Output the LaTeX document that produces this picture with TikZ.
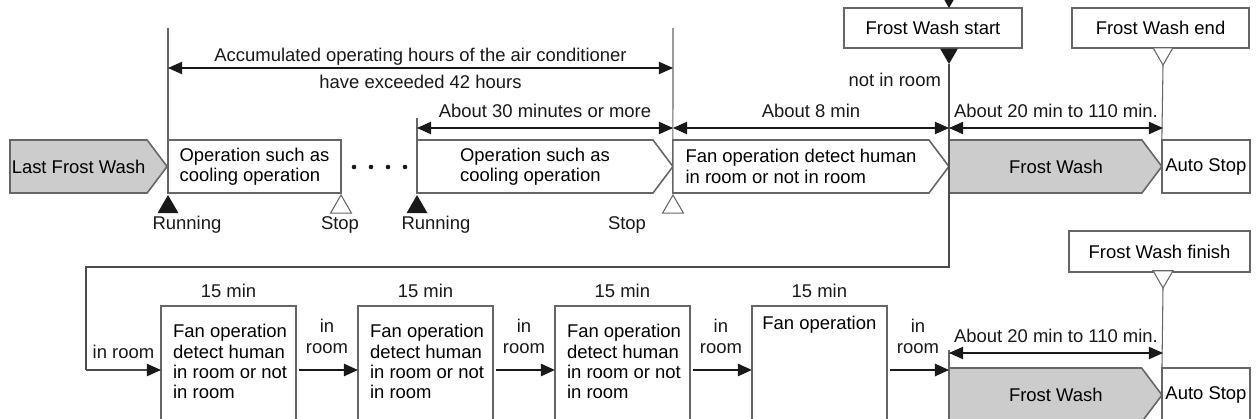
\documentclass[tikz,border=0pt]{standalone}
\usepackage{fontspec}
\setmainfont{Liberation Sans}
\usetikzlibrary{arrows.meta,shapes.symbols,shapes.geometric,positioning}

% lower boxes: text block hung from the top of the box
\newcommand{\fanbody}[1]{\parbox[c][52pt][t]{70pt}{\leftskip=3.5pt #1}}

\begin{document}
\begin{tikzpicture}[
    x=0.02cm, y=-0.02cm,
    font=\fontsize{10.5}{11.6}\selectfont,
    box/.style={rectangle,draw=black!60,line width=0.9pt,fill=white,outer sep=0pt,inner sep=1pt,minimum height=1.06cm,align=left},
    pointer/.style={box,signal,signal to=east,signal pointer angle=106},
    wash/.style={pointer,fill=black!20},
    event/.style={rectangle,draw=black!60,line width=0.7pt,fill=white,inner sep=1pt,minimum height=0.8cm},
    fanbox/.style={rectangle,draw=black!60,line width=0.9pt,outer sep=0pt,inner xsep=3.25pt,inner ysep=10pt,minimum width=2.7cm,minimum height=2.56cm},
    runmark/.style={regular polygon,regular polygon sides=3,minimum size=0.485cm,inner sep=0pt,outer sep=0pt,fill=black!90,anchor=corner 1},
    stopmark/.style={runmark,fill=white,draw=black!60,line width=0.6pt},
    startmark/.style={runmark,minimum size=0.41cm,shape border rotate=180},
    endmark/.style={stopmark,minimum size=0.46cm,shape border rotate=180},
    guide/.style={draw=black!60,line width=0.6pt},
    dim/.style={{Triangle[length=8pt,width=7pt]}-{Triangle[length=8pt,width=7pt]},line width=0.6pt,black!90},
    flow/.style={-{Triangle[length=8pt,width=7pt]},line width=1pt,black!90,shorten <=2pt},
    backline/.style={-{Triangle[length=8pt,width=7pt,color=black!90]},line width=0.6pt,black!70},
    note/.style={inner sep=1pt,text=black!90,align=center},
]
\useasboundingbox (0,0) rectangle (1257,419);
\clip (0,0) rectangle (1257,419);

% upper time line
\node[wash,minimum width=3.12cm,anchor=west]    (last)   at (10,166.5)  {Last Frost Wash};
\node[box,minimum width=3.46cm,anchor=west]     (cool1)  at (168,166.5) {Operation such as\\cooling operation};
\node[pointer,minimum width=5.12cm,anchor=west] (cool2)  at (417,166.5) {Operation such as\\cooling operation};
\node[pointer,minimum width=5.52cm,right=0pt of cool2] (detect) {Fan operation detect human\\in room or not in room};
\node[wash,minimum width=4.26cm,right=0pt of detect]   (wash1)  {\hspace*{12pt}Frost Wash};
\node[box,minimum width=1.76cm,right=0pt of wash1]     (auto1)  {Auto Stop};
\foreach \dx in {354,371,388,405} \fill[black!90] (\dx,167) circle (1.3pt);

\node[runmark]  (run1)  at (168,195) {};
\node[stopmark] (stop1) at (341,195) {};
\node[runmark]  (run2)  at (417,195) {};
\node[stopmark] (stop2) at (673,195) {};
\node[note] (runtxt1)  at (187,225) {Running};
\node[note] (stoptxt1) at (340,225) {Stop};
\node[note] (runtxt2)  at (436,225) {Running};
\node[note] (stoptxt2) at (627,225) {Stop};

\node[event,minimum width=3.56cm] (fsstart) at (933,28)    {Frost Wash start};
\node[event,minimum width=3.54cm] (fsend)   at (1160.5,28) {Frost Wash end};
\node[startmark] (startin)  at (949,8)  {};
\node[startmark] (startout) at (949,64) {};
\node[endmark]   (endout)   at (1163,65) {};
\node[note,anchor=east] (absent) at (943,80) {not in room};

\coordinate (accL) at (168,28);
\coordinate (accR) at (673,28);
\coordinate (minL) at (417,118);
\draw[guide] (cool1.north west) -- (accL);
\draw[guide] (cool2.north west) -- (minL);
\draw[guide] (detect.north west) -- (accR);
\draw[guide] (endout.corner 1) -- (auto1.north west);

\coordinate (a1) at (168,68);
\coordinate (a2) at (673,68);
\coordinate (b1) at (417,128);
\coordinate (b2) at (673,128);
\coordinate (b3) at (949,128);
\coordinate (b4) at (1163,128);
\draw[dim] (a1) -- (a2) node[midway,above=0.5pt,note] (acc1) {Accumulated operating hours of the air conditioner}
                        node[midway,below=3pt,note]   (acc2) {have exceeded 42 hours};
\draw[dim] (b1) -- (b2) node[midway,above=4.8pt,note] (lbl30) {About 30 minutes or more};
\draw[dim] (b2) -- (b3) node[midway,above=4.8pt,note] (lbl8)  {About 8 min};
\draw[dim] (b3) -- (b4) node[midway,above=4.8pt,note] (lbl20) {About 20 min to 110 min.};

% lower time line
\node[fanbox,anchor=north west] (fan1) at (161,306) {\fanbody{Fan operation\\detect human\\in room or not\\in room}};
\node[fanbox,right=1.24cm of fan1] (fan2) {\fanbody{Fan operation\\detect human\\in room or not\\in room}};
\node[fanbox,right=1.24cm of fan2] (fan3) {\fanbody{Fan operation\\detect human\\in room or not\\in room}};
\node[fanbox,right=1.24cm of fan3] (fan4) {\fanbody{\vspace*{-4.5pt}\centering Fan operation}};
\node[note,above=3.7pt of fan1] (dur1) {15 min};
\node[note,above=3.7pt of fan2] (dur2) {15 min};
\node[note,above=3.7pt of fan3] (dur3) {15 min};
\node[note,above=3.7pt of fan4] (dur4) {15 min};

\node[wash,minimum width=4.26cm,minimum height=1.08cm,anchor=west] (wash2) at (949,395) {\hspace*{12pt}Frost Wash};
\node[box,minimum width=1.76cm,minimum height=1.08cm,right=0pt of wash2] (auto2) {Auto Stop};
\node[event,minimum width=3.62cm,minimum height=0.82cm] (fsfinish) at (1159.5,251.5) {Frost Wash finish};
\node[endmark] (finishout) at (1163,288) {};
\draw[guide] (finishout.corner 1) -- (auto2.north west);

\coordinate (turnA) at (949,267);
\coordinate (turnB) at (86,370);
\draw[guide,black!70] (startout.corner 1) -- (turnA) -| (turnB);
\draw[backline] (turnB) -- (turnB -| fan1.west) node[midway,above=5pt,note] (inroom0) {in room};
\draw[flow] (fan1.east) -- (fan2.west) node[midway,above=8pt,note] (inroom1) {in\\room};
\draw[flow] (fan2.east) -- (fan3.west) node[midway,above=8pt,note] (inroom2) {in\\room};
\draw[flow] (fan3.east) -- (fan4.west) node[midway,above=8pt,note] (inroom3) {in\\room};
\draw[flow] (fan4.east) -- (fan4.east -| wash2.west) node[midway,above=8pt,note] (inroom4) {in\\room};

\coordinate (washtop) at (949,350);
\coordinate (e1) at (949,353);
\coordinate (e2) at (1163,353);
\draw[guide] (wash2.north west) -- (washtop);
\draw[dim] (e1) -- (e2) node[midway,above=4.5pt,note] (lbl20b) {About 20 min to 110 min.};
\end{tikzpicture}
\end{document}
